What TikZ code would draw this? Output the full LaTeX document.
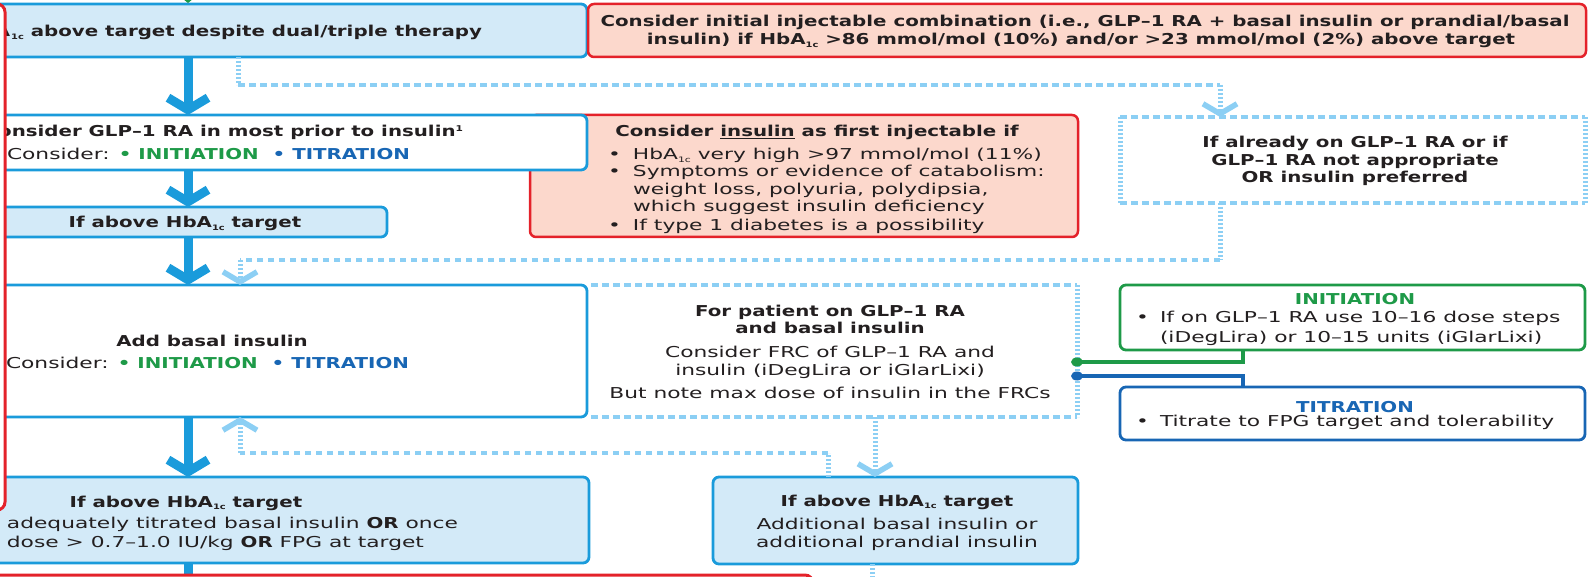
\documentclass[tikz,border=0pt]{standalone}
\usepackage{fontspec}
\setmainfont{DejaVu Sans}[FakeStretch=1.32]
\newfontfamily\regf{DejaVu Sans}[FakeStretch=1.45]
\usetikzlibrary{arrows.meta}
\definecolor{lblue}{HTML}{D3EAF8}
\definecolor{bblue}{HTML}{1A9BDB}
\definecolor{dotb}{HTML}{8CCFF4}
\definecolor{pinkf}{HTML}{FCD8CC}
\definecolor{redb}{HTML}{E4222A}
\definecolor{gr}{HTML}{1E9A48}
\definecolor{dblue}{HTML}{1866B4}
\definecolor{txt}{HTML}{231F20}
\newcommand\subc{\raisebox{-2.5pt}{\fontsize{7.5}{8}\selectfont 1c}}
\newcommand\supone{\raisebox{5pt}{\fontsize{8}{9}\selectfont 1}}
\newcommand\bopt[2]{\textcolor{#1}{\rmfamily\bfseries #2}}
\tikzset{
  base/.style={inner sep=0pt, outer sep=0pt},
  lbox/.style={base, draw=bblue, line width=2.8pt, fill=lblue, rounded corners=6pt},
  wbox/.style={base, draw=bblue, line width=2.8pt, fill=white, rounded corners=6pt},
  rbox/.style={base, draw=redb, line width=2.5pt, fill=pinkf, rounded corners=6pt},
  gbox/.style={base, draw=gr, line width=2.8pt, fill=white, rounded corners=6pt},
  tbox/.style={base, draw=dblue, line width=2.8pt, fill=white, rounded corners=6pt},
  frame/.style={base, draw=redb, line width=3pt, fill=white, rounded corners=8pt},
  nbox/.style={base},
  bt/.style={base, text=txt, font=\fontsize{15}{18}\selectfont\bfseries},
  rt/.style={base, text=txt, font=\fontsize{15}{18}\selectfont\regf},
  mainarr/.style={draw=bblue, line width=9pt, -{Straight Barb[length=12pt, width=40pt]}},
  mainline/.style={draw=bblue, line width=9pt},
  dotH/.style={draw=dotb, line width=3.3pt, dash pattern=on 6.5pt off 4.5pt},
  dotV/.style={draw=dotb, line width=5pt, dash pattern=on 2.2pt off 1.8pt},
  chev/.style={-{Straight Barb[length=10pt, width=34pt, line width=5.5pt]}},
  gline/.style={draw=gr, line width=3.2pt},
  bline/.style={draw=dblue, line width=3.2pt},
}
\begin{document}
\begin{tikzpicture}[x=1pt,y=-1pt]
\path[use as bounding box] (0,0) rectangle (1588,577);
\begin{scope}
\clip (0,0) rectangle (1588,577);
% helper coordinates
\coordinate (ax) at (188,0);
\coordinate (da) at (238,0);
\coordinate (dy1) at (0,85);
\coordinate (dx2) at (1220,0);
\coordinate (dy2) at (0,260);
\coordinate (db) at (240,0);
\coordinate (dy3) at (0,453);
\coordinate (dc) at (828,0);
\coordinate (dd) at (875,0);
\coordinate (de) at (872,0);
\coordinate (gy) at (0,362);
\coordinate (by) at (0,376);
\coordinate (kx) at (1243,0);
% boxes
\node[lbox, minimum width=607pt, minimum height=53pt] (A) at (283.5,30.5) {};
\node[rbox, minimum width=998pt, minimum height=53pt] (B) at (1087,30.5) {};
\node[rbox, minimum width=548pt, minimum height=122pt] (J) at (804,176) {};
\node[wbox, minimum width=607pt, minimum height=55pt] (C) at (283.5,142.5) {};
\node[lbox, minimum width=407pt, minimum height=30pt] (D) at (183.5,222) {};
\node[nbox, minimum width=465pt, minimum height=86pt] (I) at (1352.5,160) {};
\node[wbox, minimum width=607pt, minimum height=132pt] (E) at (283.5,351) {};
\node[nbox, minimum width=490pt, minimum height=132pt] (F) at (832,351) {};
\node[gbox, minimum width=465pt, minimum height=65pt] (K) at (1352.5,317.5) {};
\node[tbox, minimum width=465pt, minimum height=53pt] (L) at (1352.5,413.5) {};
\node[lbox, minimum width=609pt, minimum height=86pt] (G) at (284.5,520) {};
\node[lbox, minimum width=365pt, minimum height=87pt] (H) at (895.5,520.5) {};
% green tip at top
\fill[gr] (183,-1) -- (193,-1) -- (188,3) -- cycle;
% dotted borders
\draw[dotH] (I.north west) -- (I.north east);
\draw[dotH] (I.south west) -- (I.south east);
\draw[dotV] (I.north west) -- (I.south west);
\draw[dotV] (I.north east) -- (I.south east);
\draw[dotH] ([xshift=4pt]F.north west) -- (F.north east);
\draw[dotH] ([xshift=4pt]F.south west) -- (F.south east);
\draw[dotV] (F.north east) -- (F.south east);
% main arrows
\draw[mainarr] (A.south -| ax) -- (C.north -| ax);
\draw[mainarr] (C.south -| ax) -- (D.north -| ax);
\draw[mainarr] (D.south -| ax) -- (E.north -| ax);
\draw[mainarr] (E.south -| ax) -- (G.north -| ax);
\draw[mainline] (G.south -| ax) -- ++(0,20);
% dotted connectors
\draw[dotV] (A.south -| da) -- (da |- dy1);
\draw[dotH] (da |- dy1) -- (dx2 |- dy1);
\draw[dotV, chev] (dx2 |- dy1) -- (I.north -| dx2);
\draw[dotV] (I.south -| dx2) -- (dx2 |- dy2);
\draw[dotH] (dx2 |- dy2) -- (db |- dy2);
\draw[dotV, chev] (db |- dy2) -- (E.north -| db);
\draw[dotV] (H.north -| dc) -- (dc |- dy3);
\draw[dotH] (dc |- dy3) -- (db |- dy3);
\draw[dotV, chev] (db |- dy3) -- (E.south -| db);
\draw[dotV, chev] (F.south -| dd) -- (H.north -| dd);
\draw[dotV] (H.south -| de) -- ++(0,20);
% green / blue connectors
\draw[gline] (F.east |- gy) -| (K.south -| kx);
\fill[gr] (F.east |- gy) ellipse (6pt and 4.5pt);
\draw[bline] (F.east |- by) -| (L.north -| kx);
\fill[dblue] (F.east |- by) ellipse (6pt and 4.5pt);
% texts
\node[bt, anchor=base east] (At) at (482,37) {HbA\kern1pt\subc{} above target despite dual/triple therapy};
\node[bt, anchor=base] (Bt1) at (1085,27) {Consider initial injectable combination (i.e., GLP–1 RA + basal insulin or prandial/basal};
\node[bt, anchor=base] (Bt2) at (1081,45) {insulin) if HbA\subc{} >86 mmol/mol (10\%) and/or >23 mmol/mol (2\%) above target};
\node[bt, anchor=base east] (Ct1) at (463,137) {Consider GLP–1 RA in most prior to insulin\supone};
\node[rt, anchor=base west] (Ct2) at (7,160) {Consider: \bopt{gr}{• INITIATION}\hspace{14pt}\bopt{dblue}{• TITRATION}};
\node[bt, anchor=base] (Jt) at (817,137) {Consider \underline{insulin} as first injectable if};
\node[rt, anchor=base west] (J1) at (608,160) {\makebox[25pt][l]{•}HbA\subc{} very high >97 mmol/mol (11\%)};
\node[rt, anchor=base west] (J2) at (608,177) {\makebox[25pt][l]{•}Symptoms or evidence of catabolism:};
\node[rt, anchor=base west] (J3) at (608,195) {\hspace*{25pt}weight loss, polyuria, polydipsia,};
\node[rt, anchor=base west] (J4) at (608,212) {\hspace*{25pt}which suggest insulin deficiency};
\node[rt, anchor=base west] (J5) at (608,231) {\makebox[25pt][l]{•}If type 1 diabetes is a possibility};
\node[bt, anchor=base] (Dt) at (185,228) {If above HbA\subc{} target};
\node[bt, anchor=base] (It1) at (1355,148) {If already on GLP–1 RA or if};
\node[bt, anchor=base] (It2) at (1355,166) {GLP–1 RA not appropriate};
\node[bt, anchor=base] (It3) at (1355,183) {OR insulin preferred};
\node[bt, anchor=base] (Et1) at (212,346) {Add basal insulin};
\node[rt, anchor=base west] (Et2) at (6,369) {Consider: \bopt{gr}{• INITIATION}\hspace{14pt}\bopt{dblue}{• TITRATION}};
\node[bt, anchor=base] (Ft1) at (830,317) {For patient on GLP–1 RA};
\node[bt, anchor=base] (Ft2) at (830,334) {and basal insulin};
\node[rt, anchor=base] (Ft3) at (830,358) {Consider FRC of GLP–1 RA and};
\node[rt, anchor=base] (Ft4) at (830,375) {insulin (iDegLira or iGlarLixi)};
\node[rt, anchor=base] (Ft5) at (830,399) {But note max dose of insulin in the FRCs};
\node[bt, anchor=base, text=gr] (Kt) at (1355,305) {INITIATION};
\node[rt, anchor=base west] (K1) at (1136,323) {\makebox[24pt][l]{•}If on GLP–1 RA use 10–16 dose steps};
\node[rt, anchor=base west] (K2) at (1136,342) {\hspace*{24pt}(iDegLira) or 10–15 units (iGlarLixi)};
\node[bt, anchor=base, text=dblue] (Lt) at (1355,412) {TITRATION};
\node[rt, anchor=base west] (L1) at (1136,426) {\makebox[24pt][l]{•}Titrate to FPG target and tolerability};
\node[bt, anchor=base] (Gt1) at (186,507) {If above HbA\subc{} target};
\node[rt, anchor=base east] (Gt2) at (458,528) {adequately titrated basal insulin \bopt{txt}{OR} once};
\node[rt, anchor=base east] (Gt3) at (424,547) {basal dose > 0.7–1.0 IU/kg \bopt{txt}{OR} FPG at target};
\node[bt, anchor=base] (Ht1) at (897,506) {If above HbA\subc{} target};
\node[rt, anchor=base] (Ht2) at (897,529) {Additional basal insulin or};
\node[rt, anchor=base] (Ht3) at (897,547) {additional prandial insulin};
% red frames on the left and bottom (drawn on top)
\node[frame, minimum width=65pt, minimum height=506pt] (R1) at (-27.5,257) {};
\node[frame, minimum width=873pt, minimum height=125pt] (R2) at (376.5,637.5) {};
\end{scope}
\end{tikzpicture}
\end{document}
